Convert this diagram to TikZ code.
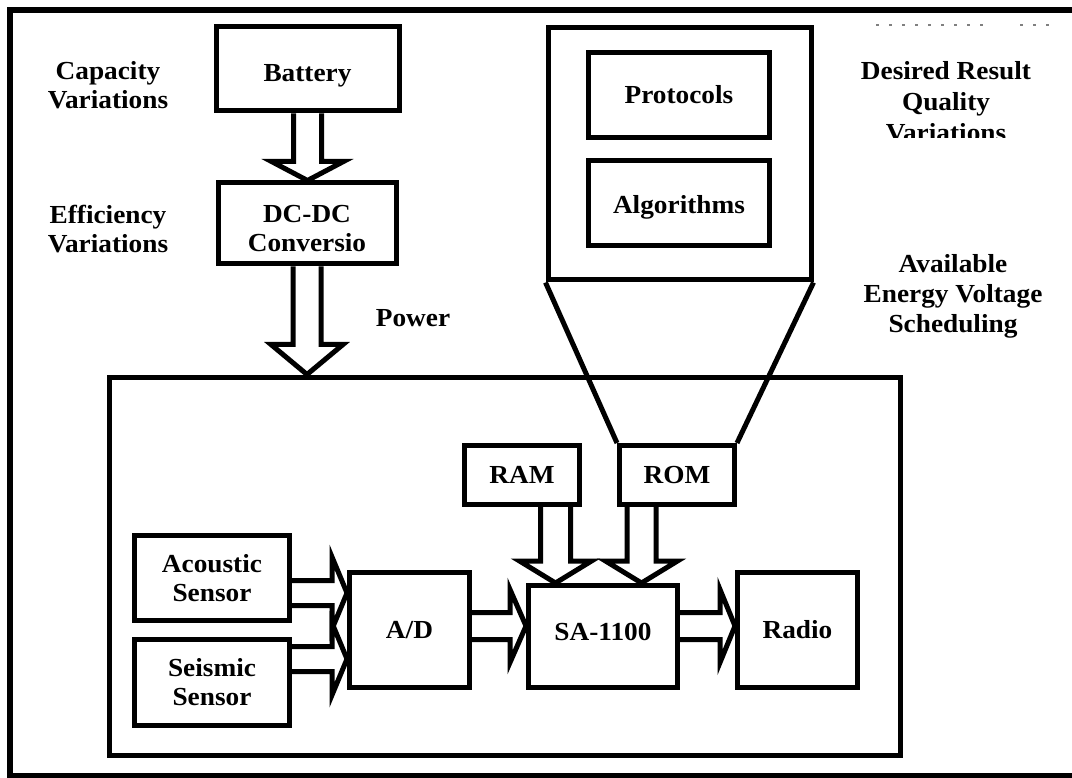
\documentclass[tikz,border=0pt]{standalone}
\usepackage{fontspec}
\setmainfont{Liberation Serif}[FakeStretch=1.05]
\usetikzlibrary{calc}
\pgfdeclarelayer{bg}
\pgfdeclarelayer{arr}
\pgfsetlayers{bg,arr,main}
\tikzset{
  txt/.style={font=\fontsize{26}{29}\selectfont\bfseries, align=center, inner sep=0pt},
  box/.style={draw, line width=5pt, fill=white, inner sep=0pt, align=center,
              font=\fontsize{26}{29}\selectfont\bfseries},
  blk/.style={draw, line width=5pt, fill=white, line join=miter},
  heavy/.style={line width=5pt},
  frame/.style={line width=6pt},
}
% vertical block arrow: start (x,y) from #1, tip y from #2, half shaft, half head, head length
\newcommand\barrowdown[5]{%
  \draw[blk] let \p1=(#1), \p2=(#2) in
    (\x1-#3,\y1) -- (\x1-#3,\y2+#5) -- (\x1-#4,\y2+#5) -- (\x1,\y2)
    -- (\x1+#4,\y2+#5) -- (\x1+#3,\y2+#5) -- (\x1+#3,\y1);}
% horizontal block arrow: start (x,y) from #1, tip x from #2
\newcommand\barrowright[5]{%
  \draw[blk] let \p1=(#1), \p2=(#2) in
    (\x1,\y1+#3) -- (\x2-#5,\y1+#3) -- (\x2-#5,\y1+#4) -- (\x2,\y1)
    -- (\x2-#5,\y1-#4) -- (\x2-#5,\y1-#3) -- (\x1,\y1-#3);}
\begin{document}
\begin{tikzpicture}[x=1pt,y=-1pt]
\useasboundingbox (0,0) rectangle (1072,778);
\clip (0,0) rectangle (1072,778);

\begin{pgfonlayer}{bg}
\fill[white] (0,0) rectangle (1072,778);
% outer frame (right side lies beyond the picture)
\draw[frame] (1090,10) -- (9.5,10) -- (9.5,775.5) -- (1090,775.5);
% faint dotted line at top right
\draw[gray, line width=1.2pt, dash pattern=on 3pt off 10pt] (876,25) -- (990,25);
\draw[gray, line width=1.2pt, dash pattern=on 3pt off 10pt] (1020,25) -- (1058,25);
% main system box
\node[box, minimum width=791pt, minimum height=378pt] (main) at (505,566) {};
\end{pgfonlayer}

% power chain
\node[box, minimum width=183pt, minimum height=84pt,
      label={[txt,yshift=-7pt]center:Battery}] (bat) at (307.5,69) {};
\node[box, minimum width=178pt, minimum height=81pt,
      label={[txt,yshift=-5pt]center:DC-DC\\Conversio}] (dc) at (307,223.5) {};

% upper software box
\node[box, minimum width=263pt, minimum height=252pt] (soft) at (679.5,154) {};
\node[box, minimum width=181pt, minimum height=85pt] (proto) at (679,95) {Protocols};
\node[box, minimum width=181pt, minimum height=85pt,
      label={[txt,yshift=-4pt]center:Algorithms}] (algo) at (679,203) {};

% side labels
\node[txt] (cap) at (108,85) {Capacity\\Variations};
\node[txt] (eff) at (108,229.5) {Efficiency\\Variations};
\node[txt] (pow) at (413,318) {Power};
\begin{scope}
  \clip (820,0) rectangle (1072,138);
  \node[txt, font=\fontsize{26}{31}\selectfont\bfseries] (des) at (946,102) {Desired Result\\Quality\\Variations};
\end{scope}
\node[txt, font=\fontsize{26}{30}\selectfont\bfseries] (avail) at (953,296) {Available\\Energy Voltage\\Scheduling};

% components inside the system box
\node[box, minimum width=115pt, minimum height=59pt] (ram) at (522,475) {RAM};
\node[box, minimum width=115pt, minimum height=59pt] (rom) at (677,475) {ROM};
\node[box, minimum width=155pt, minimum height=85pt] (ac) at (212,578) {Acoustic\\Sensor};
\node[box, minimum width=155pt, minimum height=86pt] (se) at (212,682.5) {Seismic\\Sensor};
\node[box, minimum width=120pt, minimum height=115pt] (ad) at (409.5,630) {A/D};
\node[box, minimum width=149pt, minimum height=102pt,
      label={[txt,yshift=5pt]center:SA-1100}] (sa) at (603,636.5) {};
\node[box, minimum width=120pt, minimum height=115pt] (radio) at (797.5,630) {Radio};

% funnel from the software box to ROM
\draw[heavy] (soft.south west) -- (rom.north west);
\draw[heavy] (soft.south east) -- (rom.north east);

% block arrows
\begin{pgfonlayer}{arr}
\barrowdown{bat.south}{dc.north}{14pt}{36pt}{19pt}
\barrowdown{dc.south}{dc.south |- main.north}{14pt}{36pt}{30pt}
\barrowdown{$(ram.south)+(33.5,0)$}{sa.north}{15pt}{36pt}{22pt}
\barrowdown{$(rom.south)+(-35.5,0)$}{sa.north}{14.5pt}{36pt}{22pt}
\barrowright{$(ac.east)+(0,15)$}{ad.west}{12.5pt}{36pt}{15pt}
\barrowright{$(se.east)+(0,-23.5)$}{ad.west}{12.5pt}{36pt}{15pt}
\barrowright{$(ad.east)+(0,-4)$}{sa.west}{13.5pt}{36.5pt}{16pt}
\barrowright{$(sa.east)+(0,-10.5)$}{radio.west}{13.5pt}{36.5pt}{15pt}
\end{pgfonlayer}
\end{tikzpicture}
\end{document}
